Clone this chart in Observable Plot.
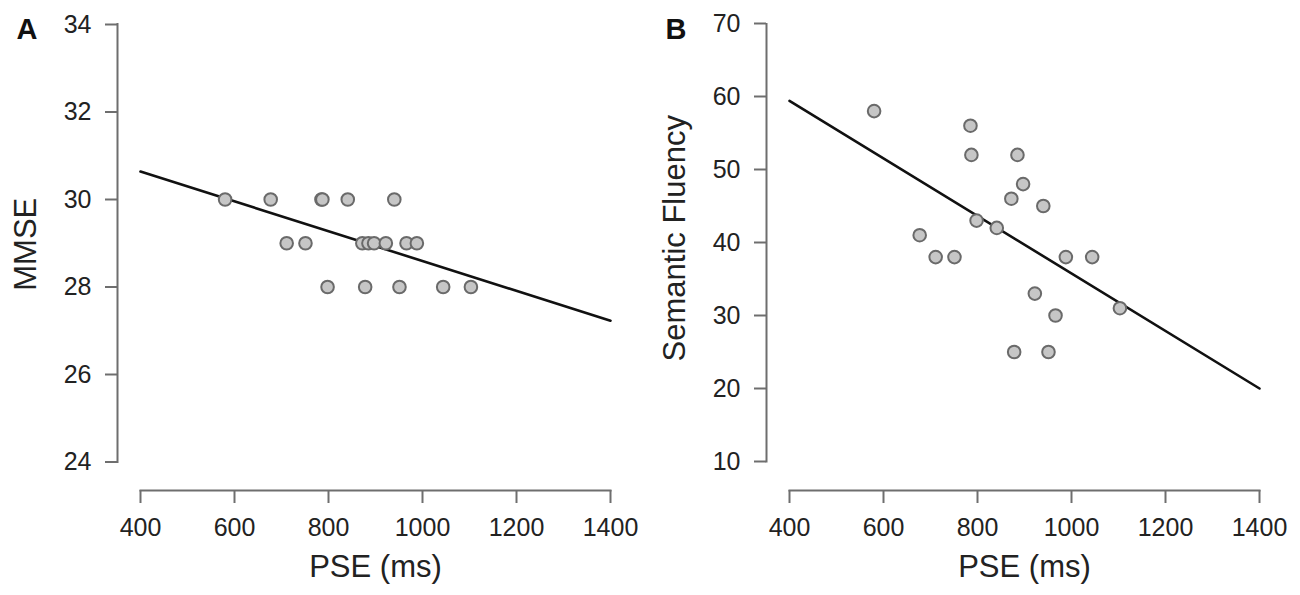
<!DOCTYPE html>
<html>
<head>
<meta charset="utf-8">
<script src="https://cdn.jsdelivr.net/npm/d3@7"></script>
<script src="https://cdn.jsdelivr.net/npm/@observablehq/plot@0.6"></script>
<style>
  html, body { margin: 0; padding: 0; background: #ffffff; }
  #wrap { position: relative; width: 1300px; height: 595px; overflow: hidden; background: #ffffff; }
  .panel { position: absolute; top: 0; }
</style>
</head>
<body>
<div id="wrap">
  <div class="panel" id="panelA" style="left:0px"></div>
  <div class="panel" id="panelB" style="left:649px"></div>
</div>
<script>
// ---- data ----
const pse      = [580, 677, 711, 751, 785, 787, 798, 841, 872, 878, 885, 897, 922, 940, 951, 966, 988, 1044, 1103];
const mmse     = [ 30,  30,  29,  29,  30,  30,  28,  30,  29,  28,  29,  29,  29,  30,  28,  29,  29,   28,   28];
const fluency  = [ 58,  41,  38,  38,  56,  52,  43,  42,  46,  25,  52,  48,  33,  45,  25,  30,  38,   38,   31];

// fitted regression lines (end points)
const fitX        = [400, 1400];
const fitMMSE     = [30.64, 27.23];
const fitFluency  = [59.4, 20.0];

// tick labels
const xTicks      = [400, 600, 800, 1000, 1200, 1400];
const yTicksA     = [24, 26, 28, 30, 32, 34];
const yTicksB     = [10, 20, 30, 40, 50, 60, 70];

const pointsA = pse.map((p, i) => ({pse: p, value: mmse[i]}));
const pointsB = pse.map((p, i) => ({pse: p, value: fluency[i]}));
const lineA = fitX.map((p, i) => ({pse: p, value: fitMMSE[i]}));
const lineB = fitX.map((p, i) => ({pse: p, value: fitFluency[i]}));

const axisColor = "#6e6e6e";
const textColor = "#222222";
const font = "'Liberation Sans', Arial, Helvetica, sans-serif";

function panel({letter, points, line, yDomain, yRange, yTicks, yLabel, yLabelDy}) {
  return Plot.plot({
    width: 650,
    height: 595,
    marginTop: 23.5,
    marginBottom: 105,
    marginLeft: 117,
    marginRight: 40,
    x: {domain: [400, 1400], range: [140, 610]},
    y: {domain: yDomain, range: yRange},
    style: {fontFamily: font, background: "#ffffff", color: textColor},
    marks: [
      Plot.frame({anchor: "left", insetBottom: 490 - yRange[0], stroke: axisColor, strokeWidth: 2}),
      Plot.frame({anchor: "bottom", insetLeft: 23, stroke: axisColor, strokeWidth: 2}),
      Plot.axisY({
        ticks: yTicks, tickFormat: "d", tickSize: 12, tickPadding: 14,
        fontSize: 25, stroke: axisColor, strokeWidth: 2, fill: textColor, label: null
      }),
      Plot.axisX({
        ticks: xTicks, tickFormat: "d", tickSize: 13, tickPadding: 15,
        fontSize: 25, stroke: axisColor, strokeWidth: 2, fill: textColor, label: null
      }),
      Plot.text(["PSE (ms)"], {
        frameAnchor: "bottom", dx: 11.5, dy: 77, lineAnchor: "middle",
        fontSize: 31, fill: textColor
      }),
      Plot.text([yLabel], {
        frameAnchor: "left", dx: -91, dy: yLabelDy, rotate: -90, lineAnchor: "middle",
        textAnchor: "middle", fontSize: 31, fill: textColor
      }),
      Plot.text([letter], {
        frameAnchor: "top-left", dx: -101, dy: -5.5, lineAnchor: "top", textAnchor: "start",
        fontSize: 29, fontWeight: "bold", fill: "#111111"
      }),
      Plot.line(line, {x: "pse", y: "value", stroke: "#111111", strokeWidth: 2.6}),
      Plot.dot(points, {x: "pse", y: "value", r: 6.3, fill: "#c6c6c6", stroke: "#6a6a6a", strokeWidth: 2})
    ]
  });
}

document.getElementById("panelA").appendChild(panel({
  letter: "A", points: pointsA, line: lineA,
  yDomain: [24, 34], yRange: [461.5, 24], yTicks: yTicksA, yLabel: "MMSE", yLabelDy: -13
}));
document.getElementById("panelB").appendChild(panel({
  letter: "B", points: pointsB, line: lineB,
  yDomain: [10, 70], yRange: [461, 23], yTicks: yTicksB, yLabel: "Semantic Fluency", yLabelDy: -19
}));
</script>
</body>
</html>
